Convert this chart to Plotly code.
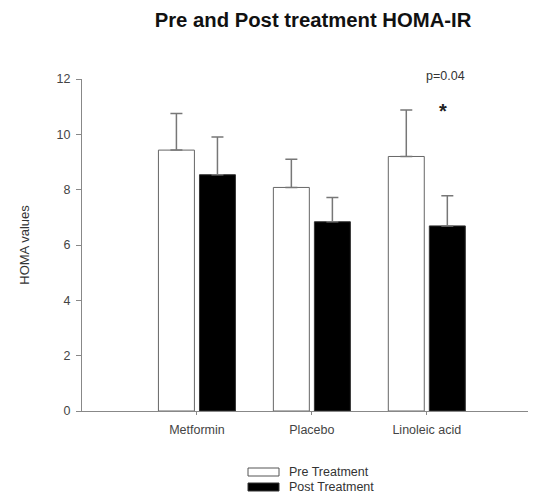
import plotly.graph_objects as go

categories = ["Metformin", "Placebo", "Linoleic acid"]
pre_values = [9.43, 8.08, 9.20]
pre_errors = [1.32, 1.02, 1.68]
post_values = [8.54, 6.84, 6.69]
post_errors = [1.36, 0.88, 1.09]
y_ticks = [0, 2, 4, 6, 8, 10, 12]

# page body has an 8px margin; lay out in page coordinates and subtract it
OFF = 8
W, H = 536 - OFF, 493 - OFF
L, R, T, B = 82 - OFF, 0, 79 - OFF, 82
PW, PH = W - L - R, H - T - B


def px(xp):
    return (xp - OFF - L) / PW


def py(yp):
    return (H - B - (yp - OFF)) / PH


FONT = "Liberation Sans, Arial, sans-serif"
x_pos = list(range(len(categories)))

fig = go.Figure()
fig.add_trace(go.Bar(
    x=x_pos, y=pre_values, name="Pre Treatment",
    width=0.313, offset=-0.335,
    marker=dict(color="white", line=dict(color="#666666", width=1)),
    error_y=dict(type="data", symmetric=False, array=pre_errors,
                 arrayminus=[0] * len(pre_errors), color="#777777",
                 thickness=1.5, width=6),
    showlegend=False,
))
fig.add_trace(go.Bar(
    x=x_pos, y=post_values, name="Post Treatment",
    width=0.313, offset=0.022,
    marker=dict(color="black", line=dict(color="#333333", width=1)),
    error_y=dict(type="data", symmetric=False, array=post_errors,
                 arrayminus=[0] * len(post_errors), color="#777777",
                 thickness=1.5, width=6),
    showlegend=False,
))

# legend (drawn manually to match original rectangles)
fig.add_shape(type="rect", xref="paper", yref="paper",
              x0=px(248), x1=px(279), y0=py(476), y1=py(468),
              fillcolor="white", line=dict(color="#555555", width=1))
fig.add_shape(type="rect", xref="paper", yref="paper",
              x0=px(248), x1=px(279), y0=py(491), y1=py(483),
              fillcolor="black", line=dict(color="#333333", width=1))
fig.add_annotation(xref="paper", yref="paper", x=px(287), y=py(472),
                   text="Pre Treatment", showarrow=False, xanchor="left",
                   yanchor="middle", font=dict(family=FONT, size=12.5, color="#333333"))
fig.add_annotation(xref="paper", yref="paper", x=px(287), y=py(487),
                   text="Post Treatment", showarrow=False, xanchor="left",
                   yanchor="middle", font=dict(family=FONT, size=12.5, color="#333333"))

# significance annotations
fig.add_annotation(xref="paper", yref="paper", x=px(445), y=py(76),
                   text="p=0.04", showarrow=False, xanchor="center",
                   yanchor="middle", font=dict(family=FONT, size=12.5, color="#333333"))
fig.add_annotation(xref="paper", yref="paper", x=px(443), y=py(111),
                   text="<b>*</b>", showarrow=False, xanchor="center",
                   yanchor="middle", font=dict(family=FONT, size=20, color="#222222"))

fig.update_layout(
    width=W, height=H,
    margin=dict(l=L, r=R, t=T, b=B, pad=0),
    paper_bgcolor="white", plot_bgcolor="white",
    barmode="overlay",
    title=dict(text="<b>Pre and Post treatment HOMA-IR</b>",
               x=(313 - OFF) / W, xanchor="center", xref="container",
               y=1 - (20 - OFF) / H, yanchor="middle", yref="container",
               font=dict(family=FONT, size=20.3, color="#111111")),
    xaxis=dict(range=[-1.0, 2.95], tickvals=x_pos, ticktext=categories,
               showline=True, linecolor="#888888", linewidth=1,
               ticks="outside", ticklen=3, tickcolor="#888888",
               showgrid=False, zeroline=False,
               ticklabelstandoff=4,
               tickfont=dict(family=FONT, size=12.5, color="#444444")),
    yaxis=dict(range=[0, 12], tickvals=y_ticks,
               showline=True, linecolor="#888888", linewidth=1,
               ticks="outside", ticklen=5, tickcolor="#888888",
               showgrid=False, zeroline=False,
               ticklabelstandoff=3,
               tickfont=dict(family=FONT, size=12.5, color="#444444"),
               title=dict(text="HOMA values", standoff=24,
                          font=dict(family=FONT, size=13, color="#333333"))),
)

fig.write_html("out.html")
